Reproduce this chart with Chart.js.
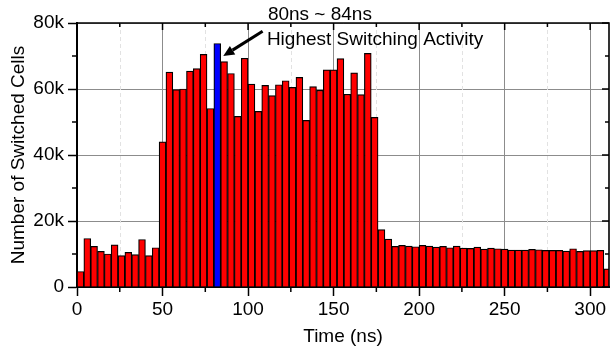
<!DOCTYPE html>
<html>
<head>
<meta charset="utf-8">
<script src="https://cdn.jsdelivr.net/npm/chart.js@4.4.1/dist/chart.umd.min.js"></script>
<style>
html, body { margin: 0; padding: 0; background: #fff; }
</style>
</head>
<body>
<canvas id="switchChart" width="610" height="349"></canvas>
<script>
// 4 ns bins, start time of each bin (ns)
var binStart = [0, 4, 8, 12, 16, 20, 24, 28, 32, 36, 40, 44, 48, 52, 56, 60, 64, 68, 72, 76,
    80, 84, 88, 92, 96, 100, 104, 108, 112, 116, 120, 124, 128, 132, 136, 140, 144, 148, 152, 156,
    160, 164, 168, 172, 176, 180, 184, 188, 192, 196, 200, 204, 208, 212, 216, 220, 224, 228, 232, 236,
    240, 244, 248, 252, 256, 260, 264, 268, 272, 276, 280, 284, 288, 292, 296, 300, 304, 308];
var switchedCells = [4700, 14700, 12300, 10800, 10000, 12800, 9500, 10500, 9800, 14400, 9500, 11900,
    44000, 65100, 59800, 60000, 65400, 66200, 70500, 54100, 73800, 68300, 64700, 51700, 69300, 61500,
    53200, 61100, 58000, 61300, 62500, 60500, 63500, 50500, 60700, 59600, 65800, 65800, 69200, 58400,
    64900, 58300, 70800, 51400, 17400, 14500, 12300, 12600, 12400, 12200, 12600, 12400, 12100, 12300,
    11900, 12400, 11800, 11700, 12100, 11500, 11800, 11600, 11500, 11200, 11200, 11200, 11400, 11300,
    11100, 11100, 11100, 10900, 11600, 10800, 11000, 11000, 11100, 5500];
var highlightBin = 80;
var xTicks = [0, 50, 100, 150, 200, 250, 300];
var xMinor = [25, 75, 125, 175, 225, 275];
var yTicks = [0, 20000, 40000, 60000, 80000];
var yTickLabels = ['0', '20k', '40k', '60k', '80k'];
var yMinor = [10000, 30000, 50000, 70000];

var FONT = '"Liberation Sans", Arial, Helvetica, sans-serif';
var binWidth = 4;

var points = binStart.map(function(s, i) {
    return { x: s + binWidth / 2, y: switchedCells[i] };
});
var colors = binStart.map(function(s) {
    return s === highlightBin ? '#0000ff' : '#ff0000';
});

// minor grid, frame, mirrored ticks and the annotation
var framePlugin = {
    id: 'framePlugin',
    beforeDatasetsDraw: function(chart) {
        var ctx = chart.ctx, a = chart.chartArea, xs = chart.scales.x;
        ctx.save();
        ctx.strokeStyle = '#e2e2e2';
        ctx.lineWidth = 1;
        ctx.setLineDash([4, 3]);
        xMinor.forEach(function(v) {
            var px = Math.round(xs.getPixelForValue(v)) + 0.5;
            ctx.beginPath();
            ctx.moveTo(px, a.top);
            ctx.lineTo(px, a.bottom);
            ctx.stroke();
        });
        ctx.restore();
    },
    afterDraw: function(chart) {
        var ctx = chart.ctx, a = chart.chartArea;
        var xs = chart.scales.x, ys = chart.scales.y;
        ctx.save();
        ctx.strokeStyle = '#000';
        ctx.lineWidth = 1.6;
        // top + right frame
        ctx.beginPath();
        ctx.moveTo(a.left, a.top);
        ctx.lineTo(a.right, a.top);
        ctx.lineTo(a.right, a.bottom);
        ctx.stroke();

        ctx.lineWidth = 1.5;
        // major mirrored ticks (inward)
        xTicks.forEach(function(v) {
            var px = xs.getPixelForValue(v);
            ctx.beginPath(); ctx.moveTo(px, a.top); ctx.lineTo(px, a.top + 7); ctx.stroke();
        });
        yTicks.forEach(function(v) {
            var py = ys.getPixelForValue(v);
            ctx.beginPath(); ctx.moveTo(a.right, py); ctx.lineTo(a.right - 7, py); ctx.stroke();
        });
        // minor ticks
        xMinor.forEach(function(v) {
            var px = xs.getPixelForValue(v);
            ctx.beginPath(); ctx.moveTo(px, a.top); ctx.lineTo(px, a.top + 4); ctx.stroke();
            ctx.beginPath(); ctx.moveTo(px, a.bottom); ctx.lineTo(px, a.bottom + 5); ctx.stroke();
        });
        yMinor.forEach(function(v) {
            var py = ys.getPixelForValue(v);
            ctx.beginPath(); ctx.moveTo(a.right, py); ctx.lineTo(a.right - 4, py); ctx.stroke();
            ctx.beginPath(); ctx.moveTo(a.left, py); ctx.lineTo(a.left - 5, py); ctx.stroke();
        });

        // annotation
        ctx.fillStyle = '#000';
        ctx.font = '19px ' + FONT;
        ctx.textBaseline = 'middle';
        ctx.textAlign = 'center';
        ctx.fillText('80ns ~ 84ns', xs.getPixelForValue(142), ys.getPixelForValue(82600));
        ctx.textAlign = 'left';
        ctx.fillText('Highest Switching Activity', xs.getPixelForValue(111), ys.getPixelForValue(75000));

        var tx = xs.getPixelForValue(108.5), ty = ys.getPixelForValue(77500);
        var hx = xs.getPixelForValue(85.5), hy = ys.getPixelForValue(70000);
        var ang = Math.atan2(hy - ty, hx - tx);
        var headLen = 11, headW = 5;
        var bx = hx - headLen * Math.cos(ang), by = hy - headLen * Math.sin(ang);
        ctx.lineWidth = 3;
        ctx.beginPath(); ctx.moveTo(tx, ty); ctx.lineTo(bx, by); ctx.stroke();
        ctx.beginPath();
        ctx.moveTo(hx, hy);
        ctx.lineTo(bx + headW * Math.sin(ang), by - headW * Math.cos(ang));
        ctx.lineTo(bx - headW * Math.sin(ang), by + headW * Math.cos(ang));
        ctx.closePath();
        ctx.fill();
        ctx.restore();
    }
};

var ctx = document.getElementById('switchChart').getContext('2d');
var switchChart = new Chart(ctx, {
    type: 'bar',
    data: {
        datasets: [{
            data: points,
            backgroundColor: colors,
            borderColor: '#000',
            borderWidth: 1.2,
            barPercentage: 1,
            categoryPercentage: 1
        }]
    },
    options: {
        responsive: false,
        animation: false,
        layout: { padding: { top: 23, right: 1, left: 0, bottom: 0 } },
        plugins: { legend: { display: false }, tooltip: { enabled: false } },
        scales: {
            x: {
                type: 'linear',
                offset: false,
                min: 0,
                max: 311,
                afterFit: function(scale) { scale.height = 62; },
                afterBuildTicks: function(scale) {
                    scale.ticks = xTicks.map(function(v) { return { value: v }; });
                },
                ticks: {
                    includeBounds: false,
                    maxRotation: 0,
                    autoSkip: false,
                    padding: 2,
                    color: '#000',
                    font: { family: FONT, size: 19 },
                    callback: function(v) { return String(v); }
                },
                grid: { offset: false, color: '#8c8c8c', lineWidth: 1, tickColor: '#000', tickWidth: 1.5, tickLength: 9 },
                border: { color: '#000', width: 2 },
                title: {
                    display: true,
                    text: 'Time (ns)',
                    color: '#000',
                    font: { family: FONT, size: 19 },
                    padding: { top: 0, bottom: 1 }
                }
            },
            y: {
                min: 0,
                max: 80000,
                afterFit: function(scale) { scale.width = 77; },
                afterBuildTicks: function(scale) {
                    scale.ticks = yTicks.map(function(v) { return { value: v }; });
                },
                ticks: {
                    padding: 4,
                    color: '#000',
                    font: { family: FONT, size: 19 },
                    callback: function(v) { return yTickLabels[yTicks.indexOf(v)]; }
                },
                grid: { color: '#8c8c8c', lineWidth: 1, tickColor: '#000', tickWidth: 1.5, tickLength: 9 },
                border: { color: '#000', width: 2 },
                title: {
                    display: true,
                    text: 'Number of Switched Cells',
                    color: '#000',
                    font: { family: FONT, size: 19 },
                    padding: { top: 7, bottom: 0 }
                }
            }
        }
    },
    plugins: [framePlugin]
});
</script>
</body>
</html>
